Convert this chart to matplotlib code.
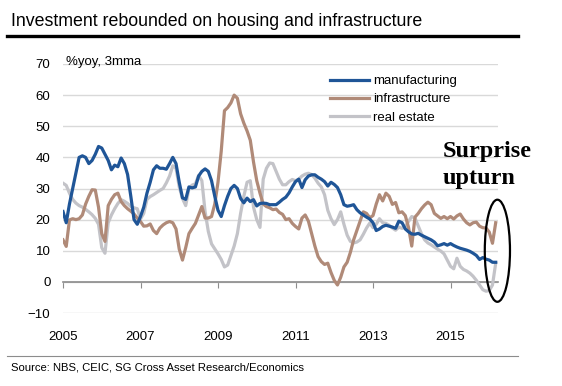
import numpy as np
import matplotlib
matplotlib.use("Agg")
import matplotlib.pyplot as plt
from matplotlib.lines import Line2D
from matplotlib.patches import Ellipse

# monthly data, Jan 2005 .. Mar 2016 (%yoy, 3mma)
manufacturing = [
    22.6, 19.0, 25.0, 30.0, 35.0, 40.0, 40.5, 40.0, 38.0, 39.0, 41.0, 43.5,   # 2005
    43.0, 41.0, 39.0, 36.0, 37.5, 37.0, 39.8, 38.0, 34.5, 27.5, 20.0, 18.5,   # 2006
    21.0, 24.0, 28.5, 32.0, 36.0, 37.3, 36.5, 36.5, 36.2, 38.0, 40.0, 38.0,   # 2007
    32.0, 27.0, 26.5, 30.5, 30.2, 30.5, 34.0, 35.5, 36.3, 35.5, 32.5, 27.5,   # 2008
    23.0, 21.0, 24.5, 27.5, 30.0, 31.0, 30.0, 26.8, 25.4, 26.9, 25.8, 26.4,   # 2009
    24.4, 25.2, 25.3, 25.2, 24.8, 24.8, 24.8, 25.6, 26.5, 27.2, 28.6, 30.5,   # 2010
    32.2, 33.0, 30.3, 32.8, 34.0, 34.4, 34.4, 33.6, 33.0, 32.2, 30.8, 32.0,   # 2011
    31.3, 30.3, 28.0, 24.8, 24.3, 24.5, 24.8, 23.2, 22.2, 21.5, 20.8, 20.2,   # 2012
    19.0, 16.5, 17.0, 17.8, 18.2, 17.9, 17.6, 17.2, 19.5, 19.0, 17.0, 16.1,   # 2013
    15.4, 15.3, 15.6, 15.0, 14.5, 14.0, 13.5, 12.8, 11.6, 11.9, 12.3, 11.8,   # 2014
    12.3, 11.7, 11.2, 10.8, 10.5, 10.2, 9.8, 9.2, 8.5, 7.2, 7.8, 7.3,        # 2015
    7.0, 6.3, 6.3,                                                            # 2016
]
infrastructure = [
    13.5, 11.4, 19.9, 20.3, 20.0, 20.3, 21.5, 25.0, 27.5, 29.6, 29.5, 24.0,
    15.5, 13.0, 24.5, 26.5, 28.0, 28.5, 25.8, 24.5, 23.5, 22.7, 21.8, 20.5,
    19.4, 17.9, 18.0, 18.6, 16.5, 15.5, 17.3, 18.3, 19.0, 19.4, 19.0, 17.0,
    10.5, 7.0, 11.0, 15.5, 17.2, 18.8, 21.5, 24.2, 20.5, 20.5, 21.0, 25.0,
    32.0, 42.0, 55.0, 56.0, 57.5, 60.0, 59.0, 54.0, 51.0, 48.5, 45.5, 38.5,
    32.5, 28.5, 25.0, 24.2, 23.8, 23.2, 23.4, 22.3, 21.7, 20.0, 20.3, 18.8,
    17.8, 17.0, 20.5, 21.5, 19.5, 15.5, 11.5, 8.1, 6.5, 5.6, 6.0, 3.0,
    0.5, -1.0, 1.5, 4.8, 6.3, 9.5, 13.5, 16.5, 19.5, 22.5, 22.0, 20.6,
    21.3, 25.0, 28.0, 26.0, 28.5, 27.5, 24.9, 25.5, 22.2, 22.5, 21.3, 17.5,
    11.5, 20.8, 22.0, 23.5, 24.7, 25.6, 24.8, 22.0, 21.2, 20.4, 21.0, 20.3,
    21.0, 20.2, 21.2, 21.8, 20.2, 19.0, 18.3, 19.0, 19.2, 17.9, 17.4, 17.3,
    16.0, 12.4, 19.0,
]
real_estate = [
    31.7, 31.0, 28.5, 26.5, 25.3, 24.5, 24.0, 23.3, 22.5, 21.6, 20.4, 18.5,
    11.0, 9.2, 19.0, 21.5, 23.5, 25.2, 26.4, 25.9, 25.2, 24.2, 23.8, 23.5,
    20.2, 22.0, 26.5, 27.4, 28.0, 28.7, 29.4, 30.0, 31.8, 34.0, 37.3, 36.5,
    30.5, 26.8, 24.5, 30.0, 31.1, 31.5, 34.2, 32.5, 22.6, 16.2, 12.2, 10.6,
    9.0, 7.2, 4.8, 5.4, 8.5, 11.5, 15.5, 22.0, 27.5, 32.0, 32.5, 24.0,
    20.0, 17.5, 33.0, 36.5, 38.2, 38.0, 35.5, 33.0, 31.2, 31.2, 32.2, 32.9,
    32.5, 33.0, 34.0, 34.6, 34.9, 34.5, 33.3, 31.7, 30.5, 28.0, 23.0, 20.3,
    18.4, 20.0, 22.5, 18.5, 15.0, 13.0, 12.5, 12.8, 13.5, 15.3, 17.3, 18.9,
    17.4, 18.5, 20.3, 19.0, 18.8, 18.2, 17.3, 16.6, 17.6, 17.2, 17.7, 19.4,
    21.0, 20.5, 18.0, 15.5, 13.5, 12.5, 11.9, 11.2, 10.5, 9.9, 9.0, 7.0,
    5.0, 4.2, 7.6, 5.0, 4.0, 3.5, 2.8, 1.8, 0.5, -1.0, -2.5, -3.0,
    -2.8, -1.0, 6.0,
]
years = 2005 + np.arange(len(manufacturing)) / 12.0
year_ticks = [2005, 2007, 2009, 2011, 2013, 2015]
y_ticks = [-10, 0, 10, 20, 30, 40, 50, 60, 70]

c_blue = "#1f5597"
c_brown = "#b08a78"
c_gray = "#c3c3c8"

plt.rcParams["font.family"] = ["Liberation Sans", "DejaVu Sans"]

W, H = 562, 386
fig = plt.figure(figsize=(W / 100, H / 100), dpi=100)
ax = fig.add_axes([63 / W, 1 - 313 / H, (498 - 63) / W, (313 - 64) / H])

ax.plot(years, real_estate, color=c_gray, lw=2.3, label="real estate", zorder=3)
ax.plot(years, infrastructure, color=c_brown, lw=2.3, label="infrastructure", zorder=4)
ax.plot(years, manufacturing, color=c_blue, lw=2.3, label="manufacturing", zorder=5)

ax.set_xlim(2005, 2005 + (498 - 63) / 38.75)
ax.set_ylim(-10, 70)
ax.set_yticks(y_ticks)
ax.set_xticks(year_ticks)
ax.grid(axis="y", color="#d9d9d9", lw=1.0, zorder=0)
ax.set_axisbelow(True)

for s in ["top", "right", "left"]:
    ax.spines[s].set_visible(False)
# the zero line carries the year ticks
ax.spines["bottom"].set_position(("data", 0))
ax.spines["bottom"].set_color("#8c8c8c")
ax.spines["bottom"].set_linewidth(1.2)
ax.tick_params(axis="x", direction="out", length=4, color="#8c8c8c", labelbottom=False)
ax.tick_params(axis="y", length=0, pad=9, labelsize=9.5)

sec = ax.secondary_xaxis(0)
sec.set_xticks(year_ticks)
sec.tick_params(length=0, pad=13, labelsize=9.5)
sec.spines["bottom"].set_visible(False)

ax.text(0.008, 1.0 - 1.5 / 249, "%yoy, 3mma", transform=ax.transAxes, fontsize=9.5,
        ha="left", va="baseline")

handles, labels = ax.get_legend_handles_labels()
order = [2, 1, 0]
ax.legend([handles[i] for i in order], [labels[i] for i in order],
          loc="upper left", bbox_to_anchor=((335 - 63) / 435 - 0.012, 1 - (75 - 64) / 249),
          frameon=False, fontsize=9.5, handlelength=3.0, handletextpad=0.3,
          labelspacing=0.45, borderaxespad=0, borderpad=0)

ax.text(2005 + (443 - 63) / 38.75, 37.5, "Surprise\nupturn", fontsize=17.5, fontweight="bold",
        family=["Liberation Serif", "DejaVu Serif"], ha="left", va="center",
        multialignment="left", linespacing=1.4)
ax.add_patch(Ellipse((2016.21, 10), 0.65, 32.8, fill=False, ec="black",
                     lw=1.6, clip_on=False, zorder=6))

fig.text(11 / W, 1 - 22 / H, "Investment rebounded on housing and infrastructure",
         fontsize=12.8, ha="left", va="center")
fig.add_artist(Line2D([7 / W, 518 / W], [1 - 36 / H, 1 - 36 / H], color="black", lw=2.4))
fig.add_artist(Line2D([7 / W, 518 / W], [1 - 356 / H, 1 - 356 / H], color="#8c8c8c", lw=0.8))
fig.text(11 / W, 1 - 367 / H, "Source: NBS, CEIC, SG Cross Asset Research/Economics",
         fontsize=8.1, ha="left", va="center")

fig.savefig("out.png", dpi=100)
